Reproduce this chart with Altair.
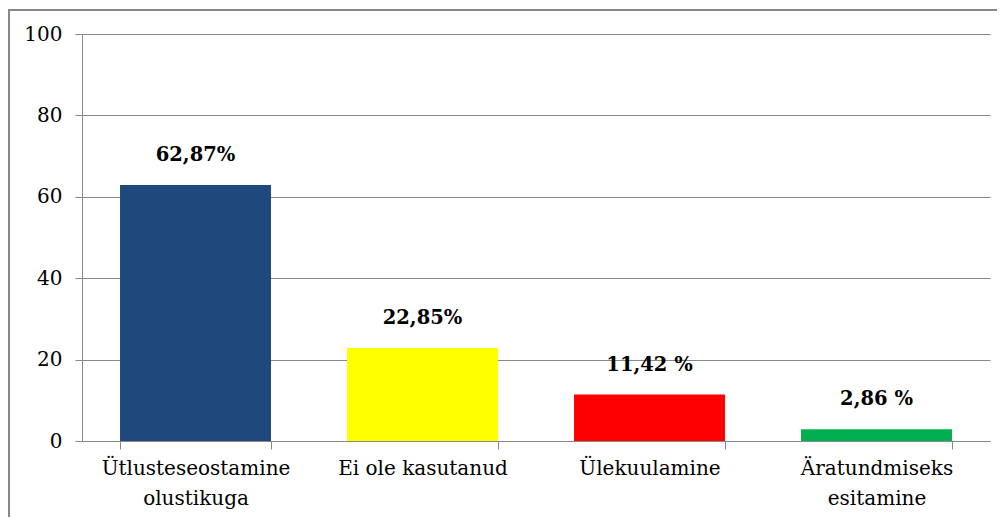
import altair as alt
import pandas as pd

categories = ["Ütlusteseostamine|olustikuga", "Ei ole kasutanud", "Ülekuulamine", "Äratundmiseks|esitamine"]
values = [62.87, 22.85, 11.42, 2.86]
labels = ["62,87%", "22,85%", "11,42 %", "2,86 %"]
colors = ["#1F497D", "#FFFF00", "#FF0000", "#00B050"]
y_ticks = [0, 20, 40, 60, 80, 100]

df = pd.DataFrame({"cat": categories, "val": values, "lab": labels, "col": colors})

FONT = "DejaVu Serif"
GRAY = "#888888"

x = alt.X(
    "cat:N",
    sort=categories,
    scale=alt.Scale(paddingInner=0.335, paddingOuter=0.1675),
    axis=alt.Axis(
        title=None, labelAngle=0, labelExpr="split(datum.label, '|')",
        labelFont=FONT, labelFontSize=20, labelColor="black", labelLineHeight=30,
        labelLimit=400, tickBand="extent", tickSize=8, tickColor=GRAY, domainColor=GRAY,
        labelPadding=9, labelBaseline="top",
    ),
)
y = alt.Y(
    "val:Q",
    scale=alt.Scale(domain=[0, 100]),
    axis=alt.Axis(
        values=y_ticks, title=None, grid=True, gridColor=GRAY, domainColor=GRAY,
        tickColor=GRAY, tickSize=7, labelFont=FONT, labelFontSize=20,
        labelPadding=13, labelColor="black",
    ),
)

base = alt.Chart(df)

bars = base.mark_bar().encode(
    x=x, y=y,
    color=alt.Color("col:N", scale=None),
)

text = base.mark_text(font=FONT, fontSize=19.5, fontWeight="bold", color="black",
                      baseline="middle", dy=-30).encode(
    x=alt.X("cat:N", sort=categories),
    y="val:Q",
    text="lab:N",
)

border_left = base.mark_rect(color=GRAY).encode(
    x=alt.value(-74), x2=alt.value(-72), y=alt.value(-25), y2=alt.value(600)
)
border_top = base.mark_rect(color=GRAY).encode(
    x=alt.value(-74), x2=alt.value(1100), y=alt.value(-25), y2=alt.value(-23)
)

chart = alt.layer(bars, text, border_left, border_top).properties(
    width=908, height=407,
    autosize=alt.AutoSizeParams(type="none"),
    padding={"left": 74, "top": 26, "right": 7, "bottom": 76},
    background="white",
).configure_view(stroke=None)

chart.save("out.html", embed_options={"renderer": "svg", "actions": False})
